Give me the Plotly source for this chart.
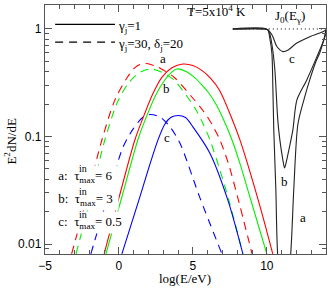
import plotly.graph_objects as go

# ---- data ----
# gamma_j = 1 (solid)
red_solid_x = [-1.0, 0.0, 1.08, 1.7, 2.3, 2.9, 3.58, 4.32, 5.0, 5.6, 6.2, 6.8, 7.6, 8.18, 8.8, 9.6, 10.4]
red_solid_y = [0.0081, 0.0269, 0.0933, 0.158, 0.251, 0.355, 0.436, 0.472, 0.457, 0.412, 0.347, 0.269, 0.151, 0.093, 0.050, 0.0209, 0.0081]
green_solid_x = [-0.88, 0.2, 1.28, 1.9, 2.5, 3.1, 3.5, 3.9, 4.6, 5.14, 5.6, 6.1, 6.6, 7.03, 7.64, 8.2, 8.85, 10.0]
green_solid_y = [0.0081, 0.0275, 0.0933, 0.158, 0.245, 0.335, 0.389, 0.425, 0.398, 0.351, 0.302, 0.251, 0.195, 0.148, 0.0933, 0.055, 0.0275, 0.0081]
blue_solid_x = [0.2, 1.4, 2.09, 2.64, 3.1, 3.5, 4.0, 4.5, 5.0, 6.15, 7.36, 8.38]
blue_solid_y = [0.0081, 0.027, 0.055, 0.093, 0.13, 0.15, 0.157, 0.15, 0.123, 0.07, 0.0257, 0.0081]
# gamma_j = 30, delta_j = 20 (dashed)
red_dash_x = [-3.2, -2.2, -1.15, -0.27, 0.54, 1.1, 1.7, 2.5, 3.2, 3.78, 4.93, 5.74, 6.3, 6.82, 7.4, 8.0, 9.0]
red_dash_y = [0.0081, 0.026, 0.0933, 0.219, 0.35, 0.44, 0.48, 0.45, 0.40, 0.35, 0.233, 0.17, 0.129, 0.0933, 0.0562, 0.0282, 0.0081]
green_dash_x = [-2.9, -1.9, -0.95, -0.1, 0.61, 1.4, 2.16, 3.0, 3.72, 4.46, 5.14, 5.65, 6.15, 6.8, 7.45, 8.38]
green_dash_y = [0.0081, 0.0275, 0.0933, 0.209, 0.309, 0.394, 0.425, 0.39, 0.336, 0.251, 0.184, 0.135, 0.0933, 0.0501, 0.0251, 0.0081]
blue_dash_x = [-1.9, -0.8, 0.27, 0.95, 1.62, 2.1, 2.77, 3.45, 4.12, 5.47, 6.96]
blue_dash_y = [0.0081, 0.0263, 0.0794, 0.117, 0.151, 0.16, 0.152, 0.123, 0.087, 0.027, 0.0081]
# J0(E_gamma) absorption curves
j0a_x = [7.7, 9.86, 10.07, 10.2, 10.34, 10.41, 10.47, 10.61, 10.74, 11.17, 11.6, 11.82, 12.1, 12.5, 12.9, 13.3, 13.58, 13.85, 14.0]
j0a_y = [1, 1, 0.98, 0.82, 0.60, 0.27, 0.115, 0.032, 0.0077, 0.0025, 0.0077, 0.032, 0.13, 0.218, 0.336, 0.49, 0.60, 0.79, 0.98]
j0b_x = [7.7, 9.86, 10.07, 10.2, 10.37, 10.54, 10.74, 10.88, 11.08, 11.2, 11.35, 11.49, 11.76, 12.03, 12.7, 13.38, 13.92, 14.0]
j0b_y = [1, 1, 0.98, 0.90, 0.68, 0.42, 0.142, 0.093, 0.061, 0.051, 0.061, 0.075, 0.115, 0.218, 0.336, 0.55, 0.84, 0.98]
j0c_x = [7.7, 9.98, 10.35, 10.69, 11.1, 11.44, 12.0, 12.9, 13.8, 14.0]
j0c_y = [1, 1, 0.88, 0.684, 0.616, 0.638, 0.736, 0.848, 0.944, 0.98]
j0_ref_x = [7.7, 14.0]
j0_ref_y = [1, 1]

x_ticks = [-5, 0, 5, 10]
y_ticks = [0.01, 0.1, 1]
y_ticktext = ["0.01", "0.1", "1"]
y_minor = [0.009] + [k * 0.01 for k in range(2, 10)] + [k * 0.1 for k in range(2, 10)]

tau_labels = ["a", "b", "c"]
tau_values = ["6", "3", "0.5"]

SERIF = "Liberation Serif"
SANS = "Liberation Sans"
DASH = "8px,6px"
RED, GREEN, BLUE, BLACK = "#ff0000", "#00f000", "#0000ff", "#222222"

fig = go.Figure()

def add(x, y, color, dash="solid", width=1.1, smooth=True):
    fig.add_trace(go.Scatter(
        x=x, y=y, mode="lines", showlegend=False, hoverinfo="skip",
        line=dict(color=color, width=width, dash=dash,
                  shape="spline" if smooth else "linear", smoothing=0.8 if smooth else None)))

add(red_dash_x, red_dash_y, RED, DASH)
add(green_dash_x, green_dash_y, GREEN, DASH)
add(blue_dash_x, blue_dash_y, BLUE, DASH)
add(red_solid_x, red_solid_y, RED)
add(green_solid_x, green_solid_y, GREEN)
add(blue_solid_x, blue_solid_y, BLUE)
add(j0_ref_x, j0_ref_y, "#000000", "1px,3px", 1.0, smooth=False)
add(j0a_x, j0a_y, BLACK)
add(j0b_x, j0b_y, BLACK)
add(j0c_x, j0c_y, BLACK)

ann = []
def text(x, y, s, size=13, xanchor="center", font=SERIF, xref="x", yref="y", **kw):
    ann.append(dict(x=x, y=y, text=s, showarrow=False, xref=xref, yref=yref,
                    xanchor=xanchor, yanchor="middle",
                    font=dict(family=font, size=size, color="black"), **kw))

# curve labels (y in log10 units on the log axis)
text(2.97, -0.27, "a")
text(3.24, -0.55, "b")
text(3.24, -1.01, "c")
text(11.69, -0.27, "c")
text(11.22, -1.42, "b")
text(12.43, -1.75, "a")
text(11.55, 0.12, "J<sub>0</sub>(E<sub>γ</sub>)")
text(6.62, 0.17, "T=5x10<sup>4</sup> K")
# legend texts
text(-0.2, 0.02, "γ<sub>j</sub>=1", xanchor="left")
text(-0.2, -0.14, "γ<sub>j</sub>=30, δ<sub>j</sub>=20", xanchor="left")
# tau labels on an opaque key box ("in" stacked above "max")
row_y = [-1.37, -1.585, -1.80]
for lab, val, yy in zip(tau_labels, tau_values, row_y):
    text(-4.5, yy, f" {lab}:  τ<sub>max</sub>= {val} ", xanchor="left", bgcolor="white", borderpad=2)
for yy in row_y:
    text(-2.84, yy + 0.07, "in", size=10, xanchor="left")
# axis titles
text(0.498, -0.1, "log(E/eV)", xref="paper", yref="paper")
text(-0.125, 0.455, "E<sup>2</sup>dN/dE", xref="paper", yref="paper", textangle=-90)

shapes = [
    dict(type="line", xref="paper", yref="paper", x0=0.036, x1=0.249, y0=0.922, y1=0.922,
         line=dict(color="black", width=1.1)),
    dict(type="line", xref="paper", yref="paper", x0=0.036, x1=0.249, y0=0.851, y1=0.851,
         line=dict(color="black", width=1.1, dash=DASH)),
]

axis_common = dict(showline=True, linecolor="#555555", linewidth=1.4, mirror="ticks",
                   ticks="inside", tickcolor="#555555", showgrid=False, zeroline=False)

fig.update_layout(
    width=332, height=288,
    margin=dict(l=45, r=6, t=5, b=34),
    paper_bgcolor="white", plot_bgcolor="white",
    annotations=ann, shapes=shapes,
    xaxis=dict(range=[-5, 14], tickvals=x_ticks, ticklen=7, tickwidth=1,
               tickfont=dict(family=SANS, size=12, color="black"),
               minor=dict(dtick=1, tick0=0, ticklen=4, ticks="inside", tickcolor="#555555"),
               **axis_common),
    yaxis=dict(type="log", range=[-2.093, 0.223], tickvals=y_ticks, ticktext=y_ticktext,
               ticklen=7, tickwidth=1,
               tickfont=dict(family=SANS, size=12, color="black"),
               minor=dict(tickvals=y_minor, ticklen=4, ticks="inside", tickcolor="#555555"),
               **axis_common),
)

fig.write_html("out.html", config={"displayModeBar": False},
               post_script="document.body.style.margin='0px';document.body.style.padding='0px';")
